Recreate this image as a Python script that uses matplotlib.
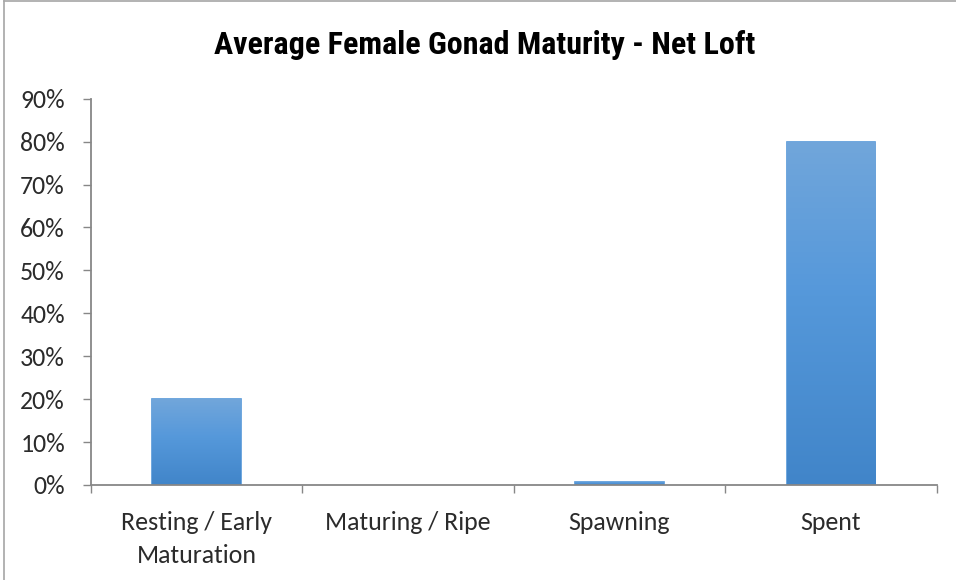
import numpy as np
import matplotlib
matplotlib.use("Agg")
import matplotlib.pyplot as plt
from matplotlib.colors import LinearSegmentedColormap
from matplotlib.lines import Line2D
from matplotlib.ticker import FuncFormatter, FixedLocator

# Data
categories = ["Resting / Early\nMaturation", "Maturing / Ripe", "Spawning", "Spent"]
values = [0.20, 0.0, 0.007, 0.80]
title = "Average Female Gonad Maturity - Net Loft"

W, H = 956, 580
fig = plt.figure(figsize=(W / 100, H / 100), dpi=100)
ax = fig.add_axes([90.7 / W, (H - 485) / H, (936.7 - 90.7) / W, (485 - 98.7) / H])

axis_grey = "#878787"
label_font = dict(family=["Carlito", "DejaVu Sans"], fontweight="normal", fontsize=18.6,
                  color="#2b2b2b")

x = np.arange(len(categories))
bars = ax.bar(x, values, width=0.417, color="#5597d8", edgecolor="none", zorder=2)

# vertical gradient fill for each bar, light at top to darker at bottom
grad_cmap = LinearSegmentedColormap.from_list(
    "bar_grad", [(0.0, "#4185c9"), (0.55, "#5598da"), (1.0, "#71a6db")])
grad = np.linspace(0, 1, 256).reshape(-1, 1)
for b in bars:
    x0, w = b.get_x(), b.get_width()
    h = b.get_height()
    if h <= 0:
        continue
    b.set_facecolor("none")
    b.set_edgecolor("#5597d8")
    b.set_linewidth(1.2)
    im = ax.imshow(grad, cmap=grad_cmap, origin="lower", aspect="auto",
                   extent=(x0, x0 + w, 0, h), zorder=2, interpolation="bilinear")
    im.set_clip_path(b)

ax.set_xlim(-0.5, len(categories) - 0.5)
ax.set_ylim(0, 0.9)

# y axis
ax.set_yticks(np.arange(0, 0.91, 0.1))
ax.yaxis.set_major_formatter(FuncFormatter(lambda v, p: f"{v * 100:.0f}%"))

# x axis: tick marks at category boundaries, labels centred on categories
ax.xaxis.set_major_locator(FixedLocator(np.arange(-0.5, len(categories), 1.0)))
ax.xaxis.set_minor_locator(FixedLocator(x))
ax.xaxis.set_major_formatter(FuncFormatter(lambda v, p: ""))
ax.set_xticklabels(categories, minor=True, linespacing=1.48, **label_font)
for lbl in ax.get_yticklabels():
    lbl.set(**label_font)

ax.tick_params(axis="x", which="major", length=6, width=1, color=axis_grey, direction="out")
ax.tick_params(axis="x", which="minor", length=0, pad=19)
ax.tick_params(axis="y", length=6, width=1, color=axis_grey, direction="out", pad=12.5)

for side in ("top", "right"):
    ax.spines[side].set_visible(False)
for side in ("left", "bottom"):
    ax.spines[side].set_color(axis_grey)
    ax.spines[side].set_linewidth(1.3)
    ax.spines[side].set_zorder(3)

fig.text(485 / W, 1 - 45 / H, title, ha="center", va="center",
         family=["Roboto Condensed", "DejaVu Sans"], fontweight="bold", fontsize=23,
         color="black")

# chart frame
fig.add_artist(Line2D([4 / W, 4 / W], [0, 1 - 1 / H], color="#a6a6a6", lw=1.2))
fig.add_artist(Line2D([4 / W, 1], [1 - 1 / H, 1 - 1 / H], color="#a6a6a6", lw=1.2))

fig.savefig("out.png", dpi=100)
